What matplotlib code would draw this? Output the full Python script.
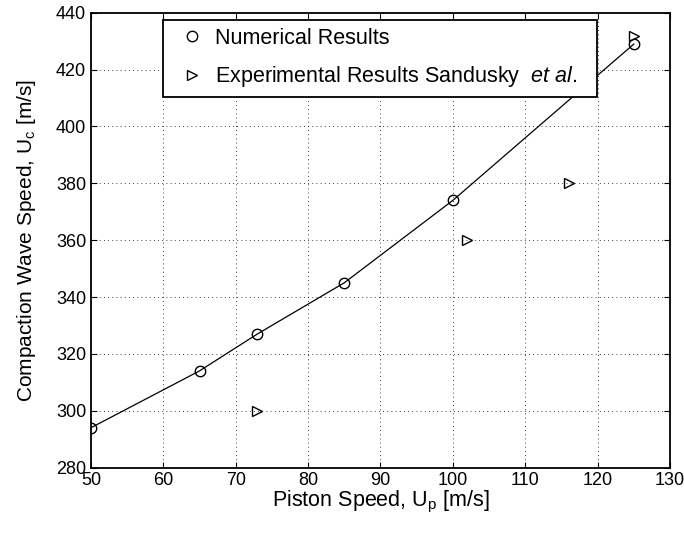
import matplotlib
matplotlib.use("Agg")
import matplotlib.pyplot as plt

plt.rcParams["font.family"] = ["Liberation Sans", "DejaVu Sans"]
plt.rcParams["mathtext.fontset"] = "custom"
plt.rcParams["mathtext.rm"] = "Liberation Sans"
plt.rcParams["mathtext.it"] = "Liberation Sans:italic"
plt.rcParams["mathtext.default"] = "regular"

num_speed = [50, 65, 73, 85, 100, 125]
num_wave = [294, 314, 327, 345, 374, 429]
exp_speed = [73, 102, 116, 125]
exp_wave = [300, 360, 380, 432]

fig = plt.figure(figsize=(6.84, 5.34), dpi=100)
ax = fig.add_axes([0.133, 0.1245, 0.8465, 0.8515])

ax.plot(num_speed, num_wave, color="black", lw=0.9)
ax.plot(num_speed, num_wave, "o", mfc="none", mec="black", ms=7.5, mew=1.0,
        label="Numerical Results")
ax.plot(exp_speed, exp_wave, ">", mfc="none", mec="black", ms=7.5, mew=1.0,
        ls="none", label=r"Experimental Results Sandusky  $\mathit{et\ al.}$")

ax.set_xlim(50, 130)
ax.set_ylim(280, 440)
ax.set_xticks(range(50, 131, 10))
ax.set_yticks(range(280, 441, 20))
ax.grid(True, color="black", ls=(0, (1, 4)), lw=0.6)
ax.tick_params(direction="in", top=True, right=True, labelsize=13, length=4.3)
for s in ax.spines.values():
    s.set_linewidth(1.3)

ax.set_xlabel("Piston Speed, U$_p$ [m/s]", fontsize=15.5, labelpad=0)
ax.set_ylabel("Compaction Wave Speed, U$_c$ [m/s]", fontsize=15, labelpad=13)

# legend box spans the 60..115 region of the top of the axes
leg = ax.legend(loc="upper left", bbox_to_anchor=(0.1244, 0.817, 0.75, 0.167),
                mode="expand", fontsize=15.5,
                fancybox=False, framealpha=1, edgecolor="black",
                handlelength=2.0, handletextpad=0.05, borderpad=0.35,
                labelspacing=0.72, borderaxespad=0)
leg.get_frame().set_linewidth(1.3)

fig.savefig("out.png", dpi=100)
